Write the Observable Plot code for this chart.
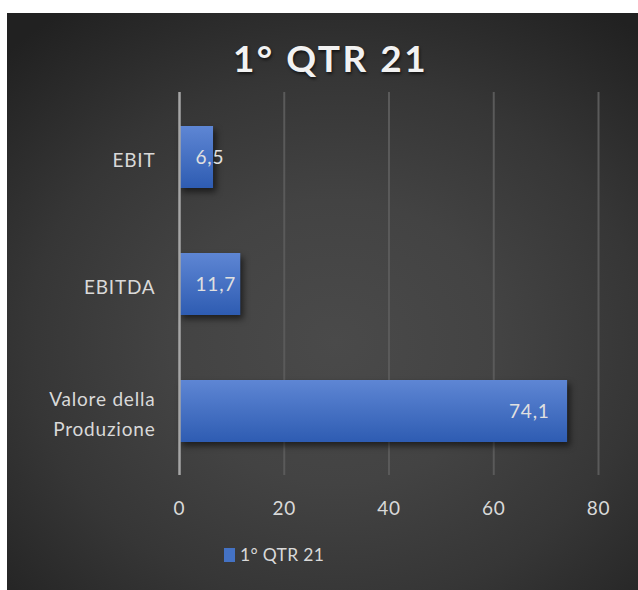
<!DOCTYPE html>
<html>
<head>
<meta charset="utf-8">
<script src="https://cdn.jsdelivr.net/npm/d3@7"></script>
<script src="https://cdn.jsdelivr.net/npm/@observablehq/plot@0.6"></script>
<style>
  html, body { margin: 0; padding: 0; background: #ffffff; }
  #wrap {
    position: absolute; left: 7px; top: 13px; width: 631px; height: 577px;
    background: radial-gradient(ellipse 75% 70% at 52% 57%, #4a4a4a 0%, #434343 35%, #363636 65%, #212121 100%);
    overflow: hidden;
    font-family: Lato, "Open Sans", sans-serif;
  }
  #title {
    position: absolute; left: 8px; top: 27px; width: 100%; text-align: center;
    font: bold 37px/36px Lato, sans-serif; letter-spacing: 2.5px;
    color: #f2f2f2; text-shadow: 1px 2px 3px rgba(0,0,0,0.6);
  }
  #chart { position: absolute; left: 0; top: 67px; }
  #chart text { letter-spacing: 0.8px; }
  #legend { position: absolute; left: 217px; top: 525px; display: flex; justify-content: flex-start; }
  #legend * { color: #d9d9d9; font-family: Lato, sans-serif; font-size: 17.5px; letter-spacing: 0.3px; }
  #legend svg { margin-right: 5px !important; }
  .bar rect { filter: drop-shadow(3px 4px 3px rgba(0,0,0,0.55)); }
</style>
</head>
<body>
<div id="wrap">
  <div id="title">1° QTR 21</div>
  <div id="chart"></div>
  <div id="legend"></div>
</div>
<script>
const categories = ["EBIT", "EBITDA", "Valore della\nProduzione"];
const values = [6.5, 11.7, 74.1];
const seriesName = "1° QTR 21";
const xTicks = [0, 20, 40, 60, 80];

const data = categories.map((c, i) => ({category: c, value: values[i]}));
const fmt = v => v.toFixed(1).replace(".", ",");

const plot = Plot.plot({
  width: 631,
  height: 445,
  marginLeft: 172,
  marginRight: 40,
  marginTop: 12,
  marginBottom: 50,
  style: {background: "transparent", color: "#d9d9d9", fontFamily: "Lato, sans-serif", fontSize: "19px", overflow: "visible"},
  x: {domain: [0, 80], ticks: xTicks},
  y: {domain: categories, paddingInner: 0.515, paddingOuter: 0.257},
  marks: [
    Plot.gridX(xTicks.filter(t => t > 0), {stroke: "#5a5a5a", strokeWidth: 2, strokeOpacity: 1}),
    Plot.barX(data, {y: "category", x: "value", fill: "url(#barGrad)", className: "bar"}),
    Plot.ruleX([0], {stroke: "#a6a6a6", strokeWidth: 2.5}),
    Plot.text(data.filter(d => d.value < 20), {y: "category", x: 0, text: d => fmt(d.value), textAnchor: "start", dx: 16, fill: "#e0e0e0", fontSize: 19}),
    Plot.text(data.filter(d => d.value >= 20), {y: "category", x: "value", text: d => fmt(d.value), textAnchor: "end", dx: -18, fill: "#e0e0e0", fontSize: 19}),
    Plot.axisX({ticks: xTicks, tickSize: 0, tickPadding: 26, fill: "#d9d9d9", fontSize: 19, label: null}),
    Plot.axisY({tickSize: 0, tickPadding: 24, fill: "#d9d9d9", fontSize: 19, lineHeight: 1.6, label: null})
  ]
});

// gradient definition for the bars
const ns = "http://www.w3.org/2000/svg";
const defs = document.createElementNS(ns, "defs");
defs.innerHTML = `<linearGradient id="barGrad" x1="0" y1="0" x2="0" y2="1">
  <stop offset="0%" stop-color="#5e86d4"/>
  <stop offset="100%" stop-color="#2e5cb2"/>
</linearGradient>`;
plot.insertBefore(defs, plot.firstChild);
document.getElementById("chart").appendChild(plot);

const legend = Plot.legend({
  color: {type: "ordinal", domain: [seriesName], range: ["#4472C4"]},
  swatchWidth: 11, swatchHeight: 14,
  style: {background: "transparent", color: "#d9d9d9", fontFamily: "Lato, sans-serif", fontSize: "17.5px"}
});
document.getElementById("legend").appendChild(legend);
</script>
</body>
</html>
